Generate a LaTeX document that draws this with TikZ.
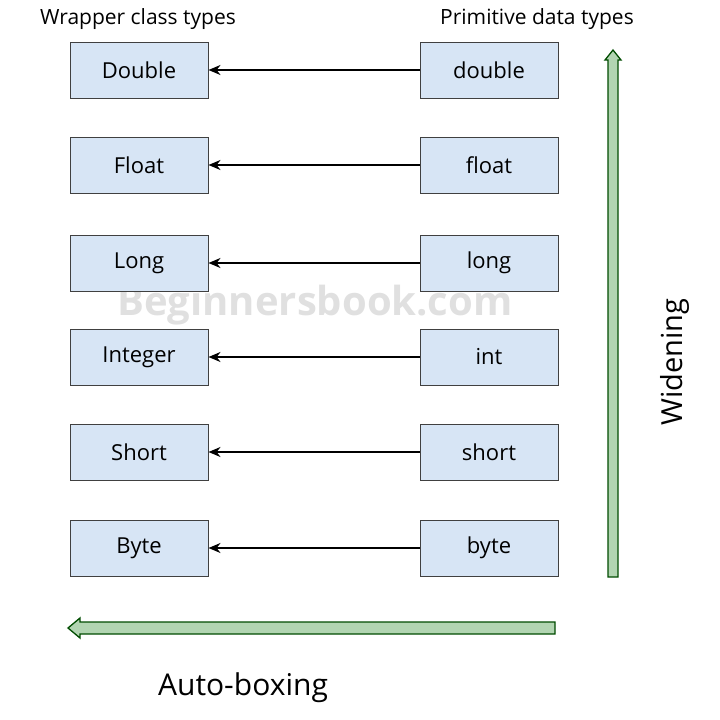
\documentclass[tikz,border=0pt]{standalone}
\usetikzlibrary{arrows.meta}
\usepackage{fontspec}
\setmainfont{Open Sans}
\definecolor{boxfill}{HTML}{D7E5F5}
\begin{document}
\begin{tikzpicture}[x=1pt,y=-1pt,
  box/.style={draw=black!75,fill=boxfill,minimum width=138pt,minimum height=56pt,font=\fontsize{22}{26}\selectfont,line width=1pt},
  conn/.style={-{Stealth[length=12pt,width=10pt]},line width=1.8pt},
  lbl/.style={font=\fontsize{21}{25}\selectfont}]
\useasboundingbox (0,0) rectangle (720,720);
\node[text=black!12,font=\fontsize{40}{48}\selectfont\bfseries] (wm) at (315,305) {Beginnersbook.com};
\node[lbl] (lt) at (138,19) {Wrapper class types};
\node[lbl] (rt) at (537,19) {Primitive data types};
\foreach \y/\a/\b/\n in {70/Double/double/1,165/Float/float/2,263/Long/long/3,357/Integer/int/4,452/Short/short/5,548/Byte/byte/6}{
  \node[box] (L\n) at (139,\y) {\a};
  \node[box] (R\n) at (489,\y) {\b};
  \draw[conn] (R\n) -- (L\n);
}
\draw[draw=black!70!green,fill=green!45!black!30!white,line width=1.3pt]
  (608,577) -- (608,60) -- (605,60) -- (613,50) -- (621,60) -- (618,60) -- (618,577) -- cycle;
\draw[draw=black!70!green,fill=green!45!black!30!white,line width=1.3pt]
  (555,622) -- (80,622) -- (80,618) -- (68,628) -- (80,638) -- (80,634) -- (555,634) -- cycle;
\node[lbl,font=\fontsize{29}{33}\selectfont,rotate=90] (wd) at (675,362) {Widening};
\node[lbl,font=\fontsize{30}{34}\selectfont] (ab) at (243,688) {Auto-boxing};
\end{tikzpicture}
\end{document}
